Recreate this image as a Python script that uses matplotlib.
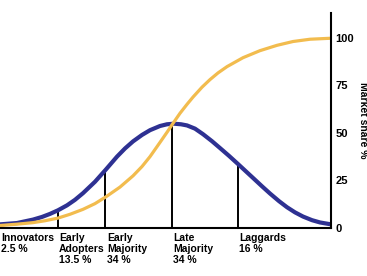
import matplotlib
matplotlib.use("Agg")
from matplotlib import pyplot as plt

plt.rcParams["font.family"] = ["Liberation Sans", "DejaVu Sans"]

# time axis (arbitrary units, left edge = 0) and adoption rate
bell_t = [0, 17, 33, 42, 50, 58, 67, 75, 83, 95, 106, 117, 125, 133, 142, 150, 160, 167, 174,
          181, 187, 195, 203, 212, 220, 229, 238, 246, 253, 262, 270, 279, 287, 295, 303, 312, 320, 331]
bell_v = [1.9, 2.6, 4.4, 5.8, 7.4, 9.3, 11.9, 14.8, 18.3, 24.3, 30.8, 37.5, 41.8, 45.5, 48.9, 51.4, 53.6, 54.5, 54.8,
          54.5, 53.9, 52.2, 49.3, 45.6, 42.0, 37.9, 33.6, 29.7, 26.3, 21.9, 18.1, 14.1, 10.9, 8.2, 6.0, 4.1, 2.9, 1.9]

# cumulative market share
share_t = [0, 17, 33, 45, 58, 70, 83, 95, 106, 120, 133, 142, 150, 160, 167, 173,
           180, 187, 193, 202, 210, 218, 227, 243, 260, 277, 293, 310, 330]
share_v = [1.3, 2.0, 2.8, 3.8, 5.2, 7.2, 9.8, 12.8, 16.4, 21.5, 27.4, 32.3, 37.5, 45.0, 50.3, 55.0,
           60.3, 65.0, 68.8, 74.0, 78.0, 81.5, 84.8, 89.5, 93.2, 96.0, 98.0, 99.2, 99.7]

bounds = [58, 105, 172, 238]
bound_h = [9.3, 30.5, 54.8, 33.6]

groups = ["Innovators\n2.5 %", "Early\nAdopters\n13.5 %", "Early\nMajority\n34 %",
          "Late\nMajority\n34 %", "Laggards\n16 %"]
group_t = [1, 59, 107, 173, 239]

fig = plt.figure(figsize=(3.67, 2.76), dpi=100)
ax = fig.add_axes([0.0, 0.174, 0.902, 0.779])

ax.vlines(bounds, 0, bound_h, color="black", lw=1.4)
ax.plot(bell_t, bell_v, color="#2E3192", lw=3.0, solid_capstyle="round", solid_joinstyle="round")
ax.plot(share_t, share_v, color="#F2BC4E", lw=2.3, solid_capstyle="round", solid_joinstyle="round")

ax.set_xlim(0, 331)
ax.set_ylim(0, 113)
ax.spines["left"].set_visible(False)
ax.spines["top"].set_visible(False)
ax.spines["right"].set_linewidth(1.5)
ax.spines["bottom"].set_linewidth(1.5)
ax.set_xticks([])
ax.yaxis.tick_right()
ax.yaxis.set_label_position("right")
ax.set_yticks([0, 25, 50, 75, 100])
ax.tick_params(axis="y", length=0, pad=3, labelsize=8)
for t in ax.get_yticklabels():
    t.set_fontweight("bold")
ax.set_ylabel("Market share %", rotation=-90, fontsize=7.5, fontweight="bold", labelpad=3, va="bottom")

for lab, gt in zip(groups, group_t):
    ax.text(gt, -2.5, lab, ha="left", va="top", fontsize=7.5, fontweight="bold",
            linespacing=1.15, clip_on=False)

fig.savefig("out.png", dpi=100)
